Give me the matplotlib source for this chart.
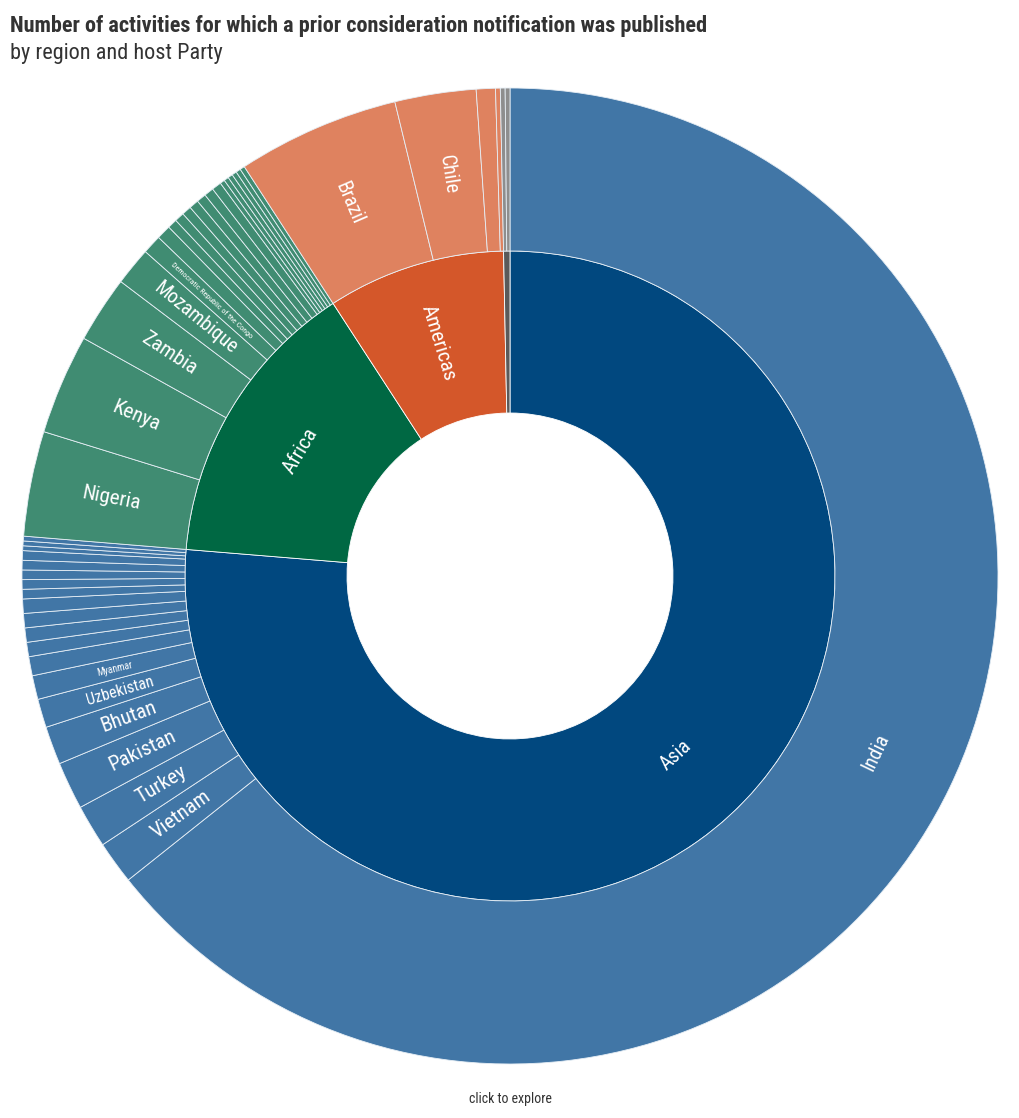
import numpy as np
import matplotlib.pyplot as plt
from matplotlib import font_manager

# data: activities per region and host Party
regions = ["Asia", "Africa", "Americas", "Europe"]

asia_parties = ["India", "Vietnam", "Turkey", "Pakistan", "Bhutan", "Uzbekistan", "Myanmar",
                "Indonesia", "Thailand", "China", "Sri Lanka", "Bangladesh", "Cambodia", "Nepal",
                "Mongolia", "Philippines", "Lao PDR", "Malaysia", "Georgia", "Iran"]
asia_counts = [407, 9, 9, 10, 8, 6, 5, 4, 3, 3, 3, 3, 2, 2, 2, 2, 2, 1, 1, 1]

africa_parties = ["Nigeria", "Kenya", "Zambia", "Mozambique", "Democratic Republic of the Congo",
                  "Uganda", "Ethiopia", "Ghana", "Rwanda", "Senegal", "Malawi", "Tanzania",
                  "Madagascar", "Burkina Faso", "Mali", "Cameroon", "Côte d'Ivoire", "Namibia", "Lesotho"]
africa_counts = [22, 21, 14, 8, 4, 3, 2, 2, 2, 2, 2, 2, 2, 1, 1, 1, 1, 1, 1]

americas_parties = ["Brazil", "Chile", "Peru", "Colombia"]
americas_counts = [34, 17, 4, 1]

europe_parties = ["Serbia", "Moldova"]
europe_counts = [1, 1]

region_colors = ["#01487f", "#006843", "#d4572a", "#5a5a5a"]
party_colors = ["#4176a6", "#408c72", "#df825f", "#8e8e8e"]

parties = [asia_parties, africa_parties, americas_parties, europe_parties]
counts = [asia_counts, africa_counts, americas_counts, europe_counts]
region_totals = [sum(c) for c in counts]
all_parties = sum(parties, [])
all_counts = sum(counts, [])
outer_colors = sum([[party_colors[i]] * len(c) for i, c in enumerate(counts)], [])

# font: condensed if we have one
names = {f.name for f in font_manager.fontManager.ttflist}
family = "Roboto"
for cand in ["Roboto Condensed", "Liberation Sans Narrow"]:
    if cand in names:
        family = cand
        break
plt.rcParams["font.family"] = [family, "DejaVu Sans"]

fig = plt.figure(figsize=(10.2, 11.18), dpi=100)
ax = fig.add_axes([22 / 1020, 54 / 1118, 976 / 1020, 976 / 1118])

inner, _ = ax.pie(region_totals, radius=0.666, colors=region_colors, startangle=90,
                  counterclock=False, wedgeprops=dict(width=0.332, edgecolor="white", linewidth=0.6))
outer, _ = ax.pie(all_counts, radius=1.0, colors=outer_colors, startangle=90,
                  counterclock=False, wedgeprops=dict(width=0.334, edgecolor="#e6eef5", linewidth=0.6))
ax.set_xlim(-1, 1)
ax.set_ylim(-1, 1)
ax.set_aspect("equal")
for w in inner + outer:
    w.set_clip_on(False)

# label sizes in px, and whether text runs around the ring or out along the radius
label_style = {
    "Asia": (20, "tan"), "Africa": (21, "tan"), "Americas": (21, "rad"),
    "India": (20, "tan"), "Vietnam": (21, "rad"), "Turkey": (21, "rad"), "Pakistan": (21, "rad"),
    "Bhutan": (21, "rad"), "Uzbekistan": (16, "rad"), "Myanmar": (10, "rad"),
    "Nigeria": (21, "rad"), "Kenya": (21, "rad"), "Zambia": (21, "rad"), "Mozambique": (20, "rad"),
    "Democratic Republic of the Congo": (8, "rad"), "Brazil": (20, "rad"), "Chile": (20, "rad"),
}


def put_label(w, r, name):
    if name not in label_style:
        return
    size, mode = label_style[name]
    mid = (w.theta1 + w.theta2) / 2
    x, y = r * np.cos(np.deg2rad(mid)), r * np.sin(np.deg2rad(mid))
    ang = mid if mode == "rad" else mid - 90
    ang = (ang + 90) % 180 - 90
    ax.text(x, y, name, rotation=ang, rotation_mode="anchor", ha="center", va="center",
            color="white", fontsize=size * 0.72)


for w, name in zip(inner, regions):
    put_label(w, 0.5, name)
for w, name in zip(outer, all_parties):
    put_label(w, 0.833, name)

fig.text(10 / 1020, 1 - 32 / 1118,
         "Number of activities for which a prior consideration notification was published",
         fontsize=16, fontweight="bold", color="#333333", va="baseline")
fig.text(10 / 1020, 1 - 59 / 1118, "by region and host Party",
         fontsize=16, color="#333333", va="baseline")
fig.text(0.5, 1 - 1099 / 1118, "click to explore", fontsize=10, color="#333333",
         ha="center", va="center")

fig.savefig("out.png", dpi=100)
